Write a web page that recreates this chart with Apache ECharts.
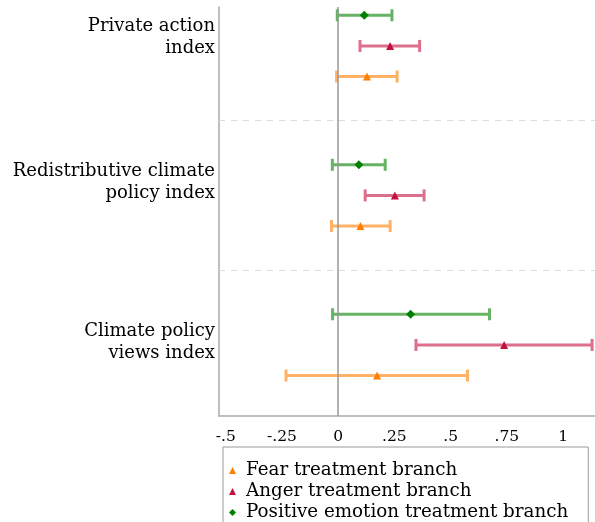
<!DOCTYPE html>
<html>
<head>
<meta charset="utf-8">
<script src="https://cdn.jsdelivr.net/npm/echarts@6/dist/echarts.min.js"></script>
<style>html,body{margin:0;padding:0;background:#fff;}#c{width:595px;height:522px;}</style>
</head>
<body>
<div id="c"></div>
<script>
// Outcomes (top to bottom)
const outcomes = ['Private action\nindex', 'Redistributive climate\npolicy index', 'Climate policy\nviews index'];
// Branches
const branches = ['Fear treatment branch', 'Anger treatment branch', 'Positive emotion treatment branch'];
// Point estimates and 95% CIs per outcome
const fearPt  = [0.128, 0.099, 0.173];
const fearLo  = [-0.007, -0.030, -0.232];
const fearHi  = [0.262, 0.231, 0.575];
const angerPt = [0.231, 0.252, 0.738];
const angerLo = [0.097, 0.120, 0.346];
const angerHi = [0.362, 0.382, 1.129];
const posPt   = [0.116, 0.092, 0.322];
const posLo   = [-0.004, -0.026, -0.025];
const posHi   = [0.239, 0.209, 0.673];
// X tick labels
const xTicks = [-0.5, -0.25, 0, 0.25, 0.5, 0.75, 1];

// layout of rows
const GROUP = 4.88;
const rowOffset = {pos: 0, anger: 1, fear: 2};
const rowPos = (g, b) => g * GROUP + rowOffset[b];
const labelPos = outcomes.map((_, g) => g * GROUP + [0.71, 0.58, 0.92][g]);
const dividers = [GROUP - 1.44, 2 * GROUP - 1.44];

const FONT = 'DejaVu Serif';
const markerCol = {fear: '#ff7f00', anger: '#c5103f', pos: '#008000'};
const barCol = {fear: '#ffb266', anger: '#dd6f8c', pos: '#66b366'};

function ciSeries(key, lo, hi) {
  return {
    type: 'custom',
    name: key + 'CI',
    z: 2,
    silent: true,
    data: lo.map((v, g) => [v, hi[g], rowPos(g, key)]),
    renderItem: function (params, api) {
      const a = api.coord([api.value(0), api.value(2)]);
      const b = api.coord([api.value(1), api.value(2)]);
      const h = 6;
      const st = {stroke: barCol[key], lineWidth: 3};
      return {
        type: 'group',
        children: [
          {type: 'line', shape: {x1: a[0], y1: a[1], x2: b[0], y2: b[1]}, style: st},
          {type: 'line', shape: {x1: a[0], y1: a[1] - h, x2: a[0], y2: a[1] + h}, style: st},
          {type: 'line', shape: {x1: b[0], y1: b[1] - h, x2: b[0], y2: b[1] + h}, style: st}
        ]
      };
    }
  };
}
function ptSeries(key, name, pts, symbol, size) {
  return {
    type: 'scatter',
    name: name,
    z: 5,
    symbol: symbol,
    symbolSize: size,
    itemStyle: {color: markerCol[key], opacity: 1},
    data: pts.map((v, g) => [v, rowPos(g, key)])
  };
}

const chart = echarts.init(document.getElementById('c'), null, {renderer: 'canvas'});
chart.setOption({
  animation: false,
  backgroundColor: '#fff',
  grid: {left: 219, right: 0, top: 7, bottom: 106},
  xAxis: {
    type: 'value',
    min: -0.53, max: 1.142,
    axisLine: {show: true, onZero: false, lineStyle: {color: '#aaa', width: 1.5}},
    axisTick: {show: false},
    splitLine: {show: false},
    axisLabel: {
      customValues: xTicks,
      margin: 13,
      color: '#000',
      fontFamily: FONT,
      fontSize: 15.5,
      formatter: v => {
        if (v === 0) return '0';
        let s = String(+v.toFixed(2));
        return s.replace('0.', '.');
      }
    }
  },
  yAxis: {
    type: 'value',
    inverse: true,
    min: -0.27, max: 13.08,
    axisLine: {show: true, onZero: false, lineStyle: {color: '#aaa', width: 1.5}},
    axisTick: {show: false},
    splitLine: {show: false},
    axisLabel: {
      customValues: labelPos,
      margin: 4,
      color: '#000',
      fontFamily: FONT,
      fontSize: 18,
      lineHeight: 22,
      align: 'right',
      formatter: v => {
        const i = labelPos.findIndex(p => Math.abs(p - v) < 1e-6);
        return i >= 0 ? outcomes[i] : '';
      }
    }
  },
  legend: {
    orient: 'vertical',
    left: 223, top: 447,
    height: 120,
    padding: [13, 20, 8, 6],
    borderColor: '#999',
    borderWidth: 1,
    itemWidth: 7, itemHeight: 7,
    itemGap: 0,
    textStyle: {fontFamily: FONT, fontSize: 18.3, color: '#000', lineHeight: 21, padding: [0, 0, 0, 5]},
    data: [
      {name: branches[0], icon: 'triangle'},
      {name: branches[1], icon: 'triangle'},
      {name: branches[2], icon: 'diamond'}
    ]
  },
  series: [
    ptSeries('fear', branches[0], fearPt, 'triangle', 8),
    ptSeries('anger', branches[1], angerPt, 'triangle', 8),
    ptSeries('pos', branches[2], posPt, 'diamond', 9),
    ciSeries('fear', fearLo, fearHi),
    ciSeries('anger', angerLo, angerHi),
    Object.assign(ciSeries('pos', posLo, posHi), {
      markLine: {
        silent: true,
        symbol: 'none',
        label: {show: false},
        data: [
          {xAxis: 0, lineStyle: {color: '#999', width: 1.5, type: 'solid'}},
          {yAxis: dividers[0], lineStyle: {color: '#ddd', width: 1, type: [6, 6]}},
          {yAxis: dividers[1], lineStyle: {color: '#ddd', width: 1, type: [6, 6]}}
        ]
      }
    })
  ]
});
</script>
</body>
</html>
